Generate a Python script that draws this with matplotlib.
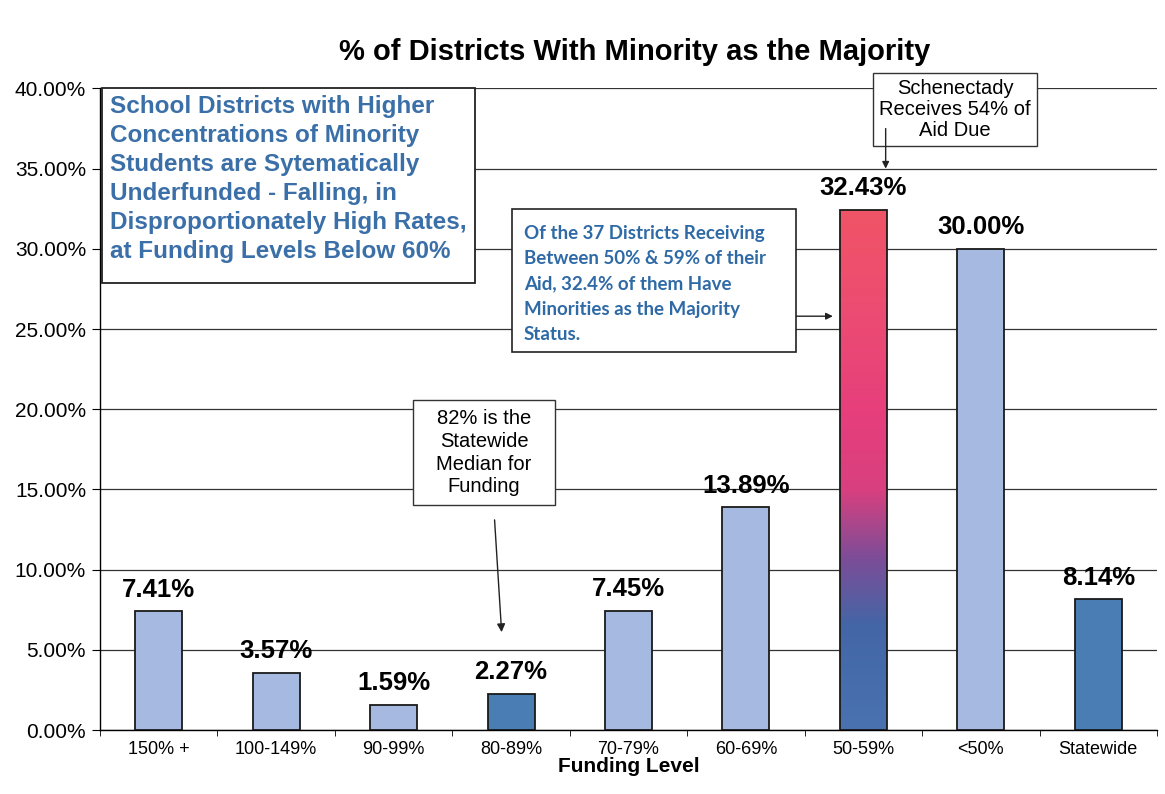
import numpy as np
import matplotlib.pyplot as plt
from matplotlib.colors import LinearSegmentedColormap
from matplotlib.patches import Rectangle

plt.rcParams['font.family'] = ['Liberation Sans', 'DejaVu Sans']

categories = ['150% +', '100-149%', '90-99%', '80-89%', '70-79%', '60-69%', '50-59%', '<50%', 'Statewide']
values = [7.41, 3.57, 1.59, 2.27, 7.45, 13.89, 32.43, 30.00, 8.14]
labels = ['7.41%', '3.57%', '1.59%', '2.27%', '7.45%', '13.89%', '32.43%', '30.00%', '8.14%']
yticks = [0, 5, 10, 15, 20, 25, 30, 35, 40]

light = '#a6bae1'
dark = '#4a7db3'
colors = [light, light, light, dark, light, light, light, light, dark]

fig = plt.figure(figsize=(11.65, 7.94), dpi=100)
ax = fig.add_axes([0.0858, 0.0806, 0.9073, 0.808])

x = np.arange(len(categories))
bw = 0.4
bars = ax.bar(x, values, width=bw, color=colors, edgecolor='#1a1a1a', linewidth=1.3, zorder=3)

# gradient fill for the 50-59% bar
grad = LinearSegmentedColormap.from_list('grad', [
    (0.0, '#4a72b0'), (0.2, '#4366a6'), (0.33, '#7d4d98'),
    (0.46, '#d8407f'), (0.6, '#e63e7c'), (0.8, '#ec4c72'), (1.0, '#f05466')])
gb = bars[6]
gb.set_facecolor('none')
img = ax.imshow(np.linspace(0, 1, 256).reshape(-1, 1), cmap=grad, origin='lower',
                extent=[gb.get_x(), gb.get_x() + bw, 0, values[6]], aspect='auto', zorder=2.9)
img.set_clip_path(Rectangle((gb.get_x(), 0), bw, values[6], transform=ax.transData))

for xi, v, lab in zip(x, values, labels):
    ax.text(xi, v + 0.6, lab, ha='center', va='bottom', fontsize=18.5, fontweight='bold', zorder=4)

ax.set_xlim(-0.5, len(categories) - 0.5)
ax.set_ylim(0, 40)
ax.set_yticks(yticks)
ax.set_yticklabels([f'{t:.2f}%' for t in yticks], fontsize=15)
ax.set_xticks(x)
ax.set_xticklabels(categories, fontsize=13)
ax.set_xticks(np.arange(len(categories) + 1) - 0.5, minor=True)
ax.tick_params(axis='x', which='major', length=0, pad=8)
ax.tick_params(axis='x', which='minor', length=4, direction='out')
ax.tick_params(axis='y', length=6, direction='out', pad=4)
ax.grid(axis='y', color='#333333', linewidth=0.9, zorder=0)
for s in ['top', 'right']:
    ax.spines[s].set_visible(False)
ax.spines['left'].set_linewidth(1.0)
ax.spines['bottom'].set_linewidth(1.0)

ax.set_xlabel('Funding Level', fontsize=15, fontweight='bold', labelpad=-1)
fig.text(0.545, 0.935, '% of Districts With Minority as the Majority', ha='center', va='center',
         fontsize=21, fontweight='bold')

# left summary box
ax.add_patch(Rectangle((-0.483, 27.9), 3.174, 12.1, facecolor='white', edgecolor='#222222',
                       linewidth=1.3, zorder=5, clip_on=False))
ax.text(-0.415, 39.6, 'School Districts with Higher\nConcentrations of Minority\nStudents are Sytematically\n'
        'Underfunded - Falling, in\nDisproportionately High Rates,\nat Funding Levels Below 60%',
        ha='left', va='top', fontsize=17.5, fontweight='bold', color='#3b6fa8',
        linespacing=1.34, zorder=6)

# 50-59% note
ax.add_patch(Rectangle((3.01, 23.55), 2.42, 8.95, facecolor='white', edgecolor='#222222',
                       linewidth=1.2, zorder=5))
ax.text(3.11, 31.5, 'Of the 37 Districts Receiving\nBetween 50% & 59% of their\nAid, 32.4% of them Have\n'
        'Minorities as the Majority\nStatus.', ha='left', va='top', fontsize=13.5,
        fontweight='bold', family=['Lato', 'DejaVu Sans'], color='#2f6aa6', linespacing=1.6, zorder=6)
ax.annotate('', xy=(5.74, 25.8), xytext=(5.43, 25.8),
            arrowprops=dict(arrowstyle='-|>', color='#222222', lw=1.0, shrinkA=0, shrinkB=0,
                            mutation_scale=10), zorder=5)

# Schenectady note
ax.text(6.78, 40.6, 'Schenectady\nReceives 54% of\nAid Due', ha='center', va='top', fontsize=14.5,
        linespacing=1.15, zorder=5,
        bbox=dict(boxstyle='square,pad=0.3', facecolor='white', edgecolor='#333333', linewidth=1.0))
ax.annotate('', xy=(6.19, 35.0), xytext=(6.19, 37.5),
            arrowprops=dict(arrowstyle='-|>', color='#222222', lw=1.0, shrinkA=0, shrinkB=0,
                            mutation_scale=10), zorder=5)

# median note
ax.add_patch(Rectangle((2.164, 14.02), 1.208, 6.54, facecolor='white', edgecolor='#333333',
                       linewidth=1.0, zorder=5))
ax.text(2.77, 17.29, "82% is the\nStatewide\nMedian for\nFunding", ha='center', va='center', fontsize=14.5,
        linespacing=1.25, zorder=6)
ax.annotate('', xy=(2.92, 6.1), xytext=(2.86, 13.1),
            arrowprops=dict(arrowstyle='-|>', color='#222222', lw=1.0, shrinkA=0, shrinkB=0,
                            mutation_scale=12), zorder=5)

fig.savefig('out.png', dpi=100)
